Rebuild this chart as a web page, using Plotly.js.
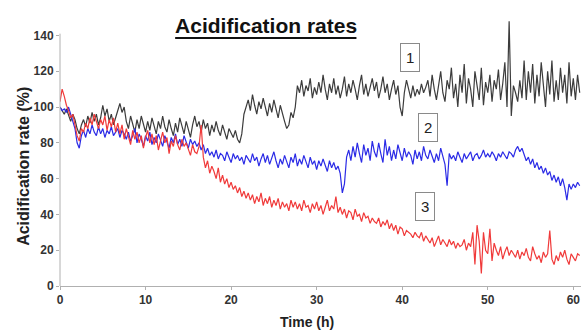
<!DOCTYPE html>
<html>
<head>
<meta charset="utf-8">
<script src="https://cdn.plot.ly/plotly-3.0.1.min.js"></script>
<style>html,body{margin:0;padding:0;background:#fff;}#chart{width:581px;height:330px;}</style>
</head>
<body>
<div id="chart"></div>
<script>
// Sampling step of the recordings (hours)
const stepHours = 0.25;

// Series 1 (black), 4 readings per hour, hours 0..60
const rate1 = [
  100,98,96,99, 95,92,96,93, 88,85,90,93, 89,95,91,97, 92,96,90,94,
  101,95,99,92, 96,90,94,98, 102,97,100,92, 88,95,90,86, 93,88,95,91,
  86,92,87,94, 90,85,92,88, 95,89,86,93, 88,84,91,86, 94,90,85,92,
  88,83,90,95, 89,92,86,93, 88,91,84,90, 86,92,87,84, 90,86,82,88,
  85,83,87,82, 80,85,96,100, 104,98,107,101, 96,103,99,105, 100,95,102,97,
  104,98,94,101, 96,92,88,90, 97,94,100,112, 108,115,106,112, 109,116,105,111,
  107,114,108,118, 110,104,113,108, 116,107,112,105, 110,117,106,113, 108,115,110,104,
  112,118,107,113, 106,111,116,109, 114,105,110,117, 108,113,104,110, 115,107,112,100,
  95,108,115,110, 105,112,106,110, 107,113,108,111, 115,106,118,110, 104,112,120,108,
  103,115,110,122, 105,113,100,118, 108,124,102,116, 110,100,120,112, 104,122,101,114,
  108,118,103,115, 110,121,104,113, 125,100,148,95, 112,108,103,115, 105,126,104,120,
  108,124,102,118, 106,125,110,100, 120,107,126,103, 115,104,122,108, 118,102,125,106,
  116,104,118,108
];

// Series 2 (blue)
const rate2 = [
  100,98,99,97, 100,96,92,88, 80,77,84,87, 83,88,85,90, 86,84,89,85,
  88,83,87,85, 89,84,86,88, 83,87,85,82, 86,81,84,88, 80,85,82,78,
  84,81,86,79, 83,80,85,82, 78,84,81,77, 83,80,85,79, 82,78,84,80,
  77,82,79,81, 78,80,76,79, 74,77,73,75, 72,76,71,74, 73,70,75,72,
  69,74,71,73, 70,72,68,73, 71,69,74,70, 72,67,71,74, 69,73,68,72,
  75,70,66,71, 68,73,70,66, 72,69,74,67, 71,68,73,69, 66,72,68,70,
  65,70,67,71, 68,64,70,66, 69,65,67,63, 52,57,72,76, 70,78,72,80,
  74,69,79,73, 77,70,81,75, 72,80,74,69, 82,73,78,70, 76,71,79,74,
  70,77,72,75, 73,68,76,71, 75,70,78,73, 71,76,72,69, 74,70,77,72,
  68,56,74,71, 73,70,75,72, 69,74,71,73, 75,70,73,74, 71,73,76,72,
  74,72,75,73, 70,74,72,75, 73,71,75,74, 72,76,78,75, 77,74,70,72,
  68,71,66,69, 65,67,63,66, 62,64,59,62, 58,61,56,60, 55,48,57,54,
  57,55,58,56
];

// Series 3 (red)
const rate3 = [
  103,110,106,101, 98,94,96,90, 84,81,88,86, 91,88,94,90, 96,92,88,93,
  90,95,87,93, 89,94,86,91, 85,90,82,88, 84,79,87,82, 86,80,84,77,
  83,87,80,85, 79,84,76,82, 86,80,83,74, 81,78,84,79, 76,82,78,80,
  77,73,79,75, 74,78,90,72, 66,70,63,67, 64,60,66,58, 62,57,60,55,
  58,54,56,52, 55,50,53,49, 52,48,51,46, 50,47,52,45, 49,46,50,44,
  48,45,49,43, 47,44,46,42, 48,44,47,43, 46,42,48,44, 45,41,46,43,
  47,42,45,40, 44,48,42,45, 43,50,41,44, 40,43,38,42, 41,37,43,39,
  40,36,41,38, 39,35,38,36, 35,38,33,36, 34,37,32,35, 31,34,29,33,
  32,28,31,30, 29,27,30,28, 27,30,25,28, 26,24,27,22, 25,28,23,26,
  24,22,26,23, 25,21,24,22, 23,26,20,24, 22,30,12,34, 25,7,30,20,
  18,32,14,24, 20,17,22,15, 19,22,17,20, 18,16,20,15, 19,17,21,16,
  14,22,18,15, 17,13,19,16, 18,31,15,12, 17,14,19,16, 20,15,12,18,
  16,14,18,17
];

const xTicks = [0, 10, 20, 30, 40, 50, 60];
const yTicks = [0, 20, 40, 60, 80, 100, 120, 140];
const seriesLabels = ['1', '2', '3'];

const timeH = rate1.map((_, i) => i * stepHours);

const FONT = 'Liberation Sans, Arial, sans-serif';

const traces = [
  {x: timeH, y: rate1, type: 'scatter', mode: 'lines', line: {color: '#3c3c3c', width: 1.2}, name: '1'},
  {x: timeH, y: rate2, type: 'scatter', mode: 'lines', line: {color: '#2b2be6', width: 1.2}, name: '2'},
  {x: timeH, y: rate3, type: 'scatter', mode: 'lines', line: {color: '#f03a3a', width: 1.2}, name: '3'}
];

const boxStyle = {showarrow: false, bordercolor: '#8a8a8a', borderwidth: 1, borderpad: 5,
  xanchor: 'center', yanchor: 'middle',
  font: {family: FONT, size: 15, color: '#222'}, bgcolor: 'rgba(255,255,255,0)'};

const layout = {
  width: 581, height: 330,
  margin: {l: 60, r: 0, t: 14, b: 44},
  paper_bgcolor: '#fff', plot_bgcolor: '#fff',
  showlegend: false,
  title: {text: 'Acidification rates', font: {family: FONT, size: 21, weight: 'bold', color: '#111'},
    xref: 'container', x: 0.458, xanchor: 'center', yref: 'container', y: 0.922, yanchor: 'middle'},
  xaxis: {range: [0, 60.9], tickvals: xTicks, ticktext: xTicks.map(String), showgrid: false, zeroline: false,
    showline: true, linecolor: '#b0b0b0', linewidth: 1, ticks: 'outside', ticklen: 3, tickcolor: '#b0b0b0',
    tickfont: {family: FONT, size: 12, weight: 'bold', color: '#333'}},
  yaxis: {range: [0, 152], tickvals: yTicks, ticktext: yTicks.map(String), showgrid: false, zeroline: false,
    showline: false, ticks: 'outside', ticklen: 3, tickcolor: '#b0b0b0',
    tickfont: {family: FONT, size: 12, weight: 'bold', color: '#333'}},
  shapes: [
    {type: 'line', xref: 'paper', yref: 'y', x0: 0, x1: 0, y0: 0, y1: 141, line: {color: '#b0b0b0', width: 1}},
    {type: 'line', xref: 'paper', yref: 'paper', x0: 0.221, x1: 0.569, y0: 0.912, y1: 0.912, line: {color: '#111', width: 2}}
  ],
  annotations: [
    {text: 'Acidification rate (%)', xref: 'paper', yref: 'paper', x: -0.07, y: 0.44, textangle: -90,
      showarrow: false, xanchor: 'center', yanchor: 'middle', font: {family: FONT, size: 16, weight: 'bold', color: '#222'}},
    {text: 'Time (h)', xref: 'paper', yref: 'paper', x: 0.474, y: -0.132, showarrow: false,
      xanchor: 'center', yanchor: 'middle', font: {family: FONT, size: 14, weight: 'bold', color: '#222'}},
    Object.assign({text: seriesLabels[0], xref: 'paper', yref: 'paper', x: 0.6715, y: 0.84}, boxStyle),
    Object.assign({text: seriesLabels[1], xref: 'paper', yref: 'paper', x: 0.706, y: 0.583}, boxStyle),
    Object.assign({text: seriesLabels[2], xref: 'paper', yref: 'paper', x: 0.7, y: 0.294}, boxStyle)
  ]
};

Plotly.newPlot('chart', traces, layout, {displayModeBar: false, staticPlot: true});
</script>
</body>
</html>
